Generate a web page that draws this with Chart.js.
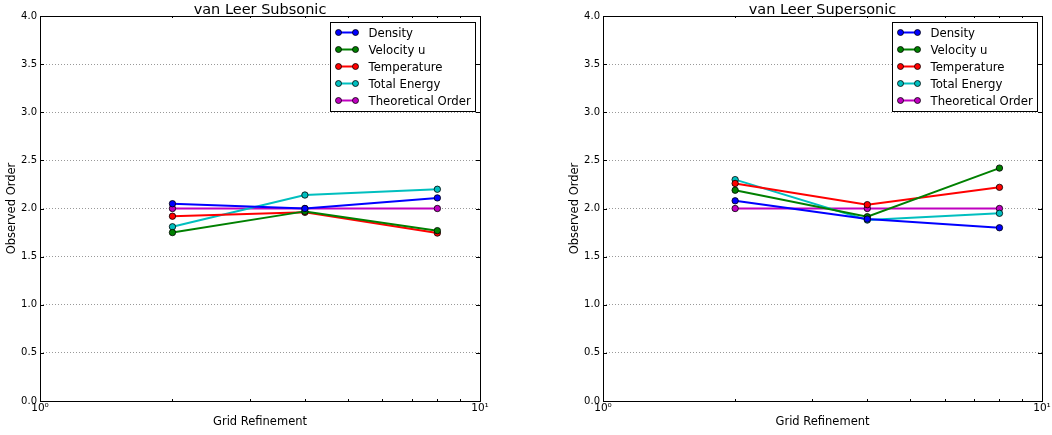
<!DOCTYPE html>
<html>
<head>
<meta charset="utf-8">
<script src="https://cdn.jsdelivr.net/npm/chart.js@4.4.1/dist/chart.umd.min.js"></script>
<style>
    body { margin: 0; background: #fff; }
    #wrap { position: relative; width: 1052px; height: 435px; }
    .cv { position: absolute; top: 0; height: 435px; }
</style>
</head>
<body>
<div id="wrap">
    <div class="cv" style="left:0; width:490px"><canvas id="chartSub"></canvas></div>
    <div class="cv" style="left:563px; width:489px"><canvas id="chartSup"></canvas></div>
</div>
<script>
// grid refinement levels (x)
var refinement = [2, 4, 8]
var seriesNames = ["Density", "Velocity u", "Temperature", "Total Energy", "Theoretical Order"]
var seriesColors = ["#0000ff", "#008000", "#ff0000", "#00bfbf", "#bf00bf"]
var yTicks = [0, 0.5, 1, 1.5, 2, 2.5, 3, 3.5, 4]
var xTickLabels = {1: "10\u2070", 10: "10\u00b9"}

// van Leer subsonic
var subDensity = [2.05, 2.0, 2.11]
var subVelocity = [1.75, 1.97, 1.77]
var subTemperature = [1.92, 1.96, 1.745]
var subEnergy = [1.81, 2.14, 2.20]
var subTheory = [2.0, 2.0, 2.0]

// van Leer supersonic
var supDensity = [2.08, 1.89, 1.80]
var supVelocity = [2.19, 1.915, 2.42]
var supTemperature = [2.26, 2.04, 2.22]
var supEnergy = [2.30, 1.88, 1.95]
var supTheory = [2.0, 2.0, 2.0]

var FONT = "'DejaVu Sans', sans-serif"

// frame, inward ticks, title and in-plot legend like matplotlib
var mplDeco = {
    id: "mplDeco",
    afterDraw: function(chart) {
        var ctx = chart.ctx
        var a = chart.chartArea
        var xs = chart.scales.x, ys = chart.scales.y
        ctx.save()
        ctx.strokeStyle = "#000"
        ctx.lineWidth = 1
        ctx.strokeRect(Math.round(a.left) + 0.5, Math.round(a.top) + 0.5, Math.round(a.right - a.left), Math.round(a.bottom - a.top))
        ctx.beginPath()
        for (var v = 1; v <= 10; v++) {
            var px = Math.round(xs.getPixelForValue(v)) + 0.5
            var len = (v == 1 || v == 10) ? 4 : 2
            ctx.moveTo(px, a.bottom); ctx.lineTo(px, a.bottom - len)
            ctx.moveTo(px, a.top); ctx.lineTo(px, a.top + len)
        }
        yTicks.forEach(function(t) {
            var py = Math.round(ys.getPixelForValue(t)) + 0.5
            ctx.moveTo(a.left, py); ctx.lineTo(a.left + 4, py)
            ctx.moveTo(a.right, py); ctx.lineTo(a.right - 4, py)
        })
        ctx.stroke()

        // title
        ctx.fillStyle = "#000"
        ctx.font = "14.5px " + FONT
        ctx.textAlign = "center"
        ctx.textBaseline = "alphabetic"
        ctx.fillText(chart.options.plotTitle, (a.left + a.right) / 2, a.top - 2)

        // legend
        var ds = chart.data.datasets
        var bw = 145, rowH = 17
        var bx = Math.round(a.right - 5 - bw) + 0.5, by = Math.round(a.top + 6) + 0.5
        var bh = rowH * ds.length + 4
        ctx.fillStyle = "#fff"
        ctx.fillRect(bx, by, bw, bh)
        ctx.strokeRect(bx, by, bw, bh)
        ctx.font = "11.7px " + FONT
        ctx.textAlign = "left"
        ctx.textBaseline = "middle"
        ds.forEach(function(d, i) {
            var cy = by + 10 + i * rowH
            ctx.strokeStyle = d.borderColor
            ctx.lineWidth = 2
            ctx.beginPath(); ctx.moveTo(bx + 8, cy); ctx.lineTo(bx + 25, cy); ctx.stroke()
            ctx.lineWidth = 0.8
            ctx.strokeStyle = "#000"
            ctx.fillStyle = d.borderColor;
            [bx + 8, bx + 25].forEach(function(mx) {
                ctx.beginPath(); ctx.arc(mx, cy, 3, 0, Math.PI * 2); ctx.fill(); ctx.stroke()
            })
            ctx.fillStyle = "#000"
            ctx.fillText(d.label, bx + 38, cy + 1)
        })
        ctx.restore()
    }
}

function makeChart(id, title, values) {
    var datasets = values.map(function(vals, i) {
        return {
            label: seriesNames[i],
            data: refinement.map(function(x, j) { return {x: x, y: vals[j]} }),
            borderColor: seriesColors[i],
            backgroundColor: seriesColors[i],
            pointBackgroundColor: seriesColors[i],
            pointBorderColor: "#000",
            pointBorderWidth: 0.8,
            pointRadius: 3.2,
            borderWidth: 2,
            tension: 0
        }
    })
    return new Chart(document.getElementById(id), {
        type: "line",
        data: { datasets: datasets },
        plugins: [mplDeco],
        options: {
            plotTitle: title,
            responsive: true,
            maintainAspectRatio: false,
            animation: false,
            layout: { padding: { top: 16, right: 10, left: 0, bottom: 0 } },
            plugins: { legend: { display: false }, tooltip: { enabled: false } },
            scales: {
                x: {
                    type: "logarithmic", min: 1, max: 10,
                    afterBuildTicks: function(s) { s.ticks = [{value: 1}, {value: 10}] },
                    afterFit: function(s) { s.height = 34 },
                    grid: { display: false, drawTicks: false },
                    border: { display: false },
                    ticks: {
                        color: "#000", font: { family: FONT, size: 10.5 }, padding: 1,
                        maxRotation: 0, autoSkip: false,
                        callback: function(v) { return xTickLabels[v] || "" }
                    },
                    title: { display: true, text: "Grid Refinement", color: "#000", font: { family: FONT, size: 11.5 }, padding: { top: 0, bottom: 6 } }
                },
                y: {
                    min: 0, max: 4,
                    afterBuildTicks: function(s) { s.ticks = yTicks.map(function(v) { return {value: v} }) },
                    afterFit: function(s) { s.width = 40 },
                    grid: { color: "#999", lineWidth: 1, drawTicks: false },
                    border: { display: false, dash: [1, 2] },
                    ticks: {
                        color: "#000", font: { family: FONT, size: 10 }, padding: 3,
                        callback: function(v) { return v.toFixed(1) }
                    },
                    title: { display: true, text: "Observed Order", color: "#000", font: { family: FONT, size: 11.5 }, padding: { top: 5, bottom: 0 } }
                }
            }
        }
    })
}

makeChart("chartSub", "van Leer Subsonic", [subDensity, subVelocity, subTemperature, subEnergy, subTheory])
makeChart("chartSup", "van Leer Supersonic", [supDensity, supVelocity, supTemperature, supEnergy, supTheory])
</script>
</body>
</html>
